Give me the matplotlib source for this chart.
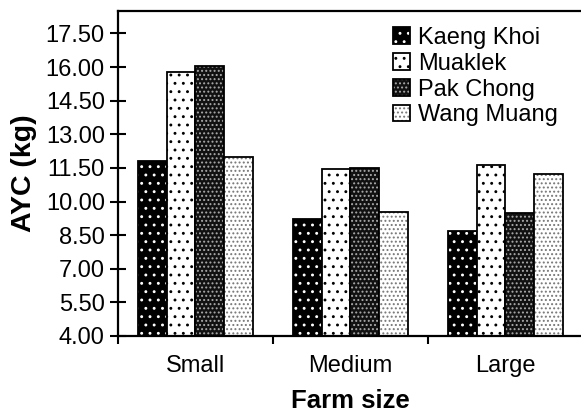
import numpy as np
import matplotlib.pyplot as plt
from matplotlib.ticker import FixedLocator, FormatStrFormatter

plt.rcParams['font.family'] = ['Liberation Sans', 'DejaVu Sans']
plt.rcParams['hatch.linewidth'] = 0.9

# Average yield per cow by farm size and district
categories = ['Small', 'Medium', 'Large']
series_names = ['Kaeng Khoi', 'Muaklek', 'Pak Chong', 'Wang Muang']
kaeng_khoi = [11.80, 9.21, 8.68]
muaklek = [15.76, 11.45, 11.62]
pak_chong = [16.03, 11.50, 9.48]
wang_muang = [11.98, 9.53, 11.22]
y_ticks = [4.00, 5.50, 7.00, 8.50, 10.00, 11.50, 13.00, 14.50, 16.00, 17.50]

series = [kaeng_khoi, muaklek, pak_chong, wang_muang]
# (face colour, dot colour, hatch) for each district
styles = [
    ('black', 'white', '..'),
    ('white', 'black', '..'),
    ('#111111', '#aaaaaa', '....'),
    ('white', '#777777', '....'),
]

fig = plt.figure(figsize=(5.81, 4.15), dpi=100)
ax = fig.add_axes([0.2031, 0.1904, 0.8003, 0.7831])

x = np.arange(len(categories))
width = 0.186
handles = []
for i, (vals, (face, dots, hatch)) in enumerate(zip(series, styles)):
    pos = x + (i - 1.5) * width
    fill = ax.bar(pos, np.array(vals) - 4, width, bottom=4, color=face,
                  edgecolor=dots, hatch=hatch, linewidth=0)
    edge = ax.bar(pos, np.array(vals) - 4, width, bottom=4, fill=False,
                  edgecolor='black', linewidth=1.3)
    handles.append((fill[0], edge[0]))

ax.set_xlim(-0.5, 2.5)
ax.set_ylim(4, 18.5)

ax.yaxis.set_major_locator(FixedLocator(y_ticks))
ax.yaxis.set_major_formatter(FormatStrFormatter('%.2f'))
ax.tick_params(axis='y', direction='inout', length=11, width=1.5,
               labelsize=17, pad=4)

ax.set_xticks(x)
ax.set_xticklabels(categories)
ax.set_xticks([-0.5, 0.5, 1.5, 2.5], minor=True)
ax.tick_params(axis='x', which='major', length=0, labelsize=17, pad=14)
ax.tick_params(axis='x', which='minor', direction='out', length=6, width=1.5)

for side in ['left', 'bottom', 'top', 'right']:
    ax.spines[side].set_linewidth(1.6)

ax.set_ylabel('AYC (kg)', fontsize=20.5, fontweight='bold', labelpad=6)
ax.set_xlabel('Farm size', fontsize=18.5, fontweight='bold', labelpad=8)

ax.legend(handles, series_names, loc='upper left',
          bbox_to_anchor=(0.676, 0.935), bbox_transform=fig.transFigure,
          frameon=False, fontsize=17, handlelength=0.72, handleheight=0.72,
          handletextpad=0.35, labelspacing=0.16, borderpad=0, borderaxespad=0)

fig.savefig('out.png', dpi=100)
